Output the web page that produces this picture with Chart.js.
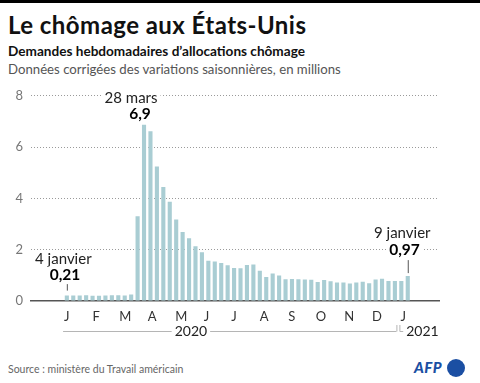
<!DOCTYPE html>
<html>
<head>
<meta charset="utf-8">
<script src="https://cdn.jsdelivr.net/npm/chart.js@4.4.0/dist/chart.umd.min.js"></script>
<style>
  body { margin: 0; width: 480px; height: 383px; background: #fff; font-family: Lato, sans-serif; position: relative; overflow: hidden; }
  #topbar { position: absolute; left: 0; top: 0; width: 480px; height: 3px; background: #000; }
  .txt { position: absolute; left: 8px; white-space: nowrap; }
  #title { top: 12px; font-size: 24px; font-weight: 700; color: #111; line-height: 26px; letter-spacing: 0.45px; }
  #subtitle { top: 43px; font-size: 13.6px; font-weight: 700; color: #111; line-height: 17px; }
  #subtitle2 { top: 60.5px; font-size: 13.2px; color: #555; line-height: 17px; }
  #source { top: 362px; font-size: 10.5px; color: #666; line-height: 14px; }
  #afp { position: absolute; left: 414px; top: 359.5px; font-size: 15px; font-style: italic; font-weight: 900; color: #1b4fa3; line-height: 14px; letter-spacing: 0.5px; }
  #dot { position: absolute; left: 447px; top: 359px; width: 18px; height: 18px; border-radius: 50%; background: #1b4fa3; }
  #chartbox { position: absolute; left: 0; top: 80px; width: 480px; height: 270px; }
</style>
</head>
<body>
<div id="topbar"></div>
<div class="txt" id="title">Le chômage aux États-Unis</div>
<div class="txt" id="subtitle">Demandes hebdomadaires d’allocations chômage</div>
<div class="txt" id="subtitle2">Données corrigées des variations saisonnières, en millions</div>
<div id="chartbox"><canvas id="claims_chart" width="480" height="270"></canvas></div>
<div class="txt" id="source">Source : ministère du Travail américain</div>
<div id="afp">AFP</div>
<div id="dot"></div>

<script>
// weekly initial claims, millions, first week ending 4 Jan 2020
const firstWeek = "2020-01-04"
const claims = [
  0.21, 0.21, 0.21, 0.22, 0.20, 0.20, 0.21, 0.22, 0.22, 0.21,
  0.25, 3.30, 6.87, 6.62, 5.24, 4.44, 3.87, 3.18, 2.69, 2.45,
  2.13, 1.90, 1.57, 1.54, 1.48, 1.39, 1.29, 1.28, 1.40, 1.42,
  1.18, 0.94, 1.07, 0.99, 0.85, 0.86, 0.85, 0.84, 0.83, 0.74,
  0.82, 0.77, 0.72, 0.72, 0.68, 0.72, 0.75, 0.69, 0.84, 0.87,
  0.78, 0.78, 0.78, 0.97
]
const monthLetters = ["J", "F", "M", "A", "M", "J", "J", "A", "S", "O", "N", "D", "J"]
const monthStarts = ["2020-01-01", "2020-02-01", "2020-03-01", "2020-04-01", "2020-05-01", "2020-06-01",
  "2020-07-01", "2020-08-01", "2020-09-01", "2020-10-01", "2020-11-01", "2020-12-01", "2021-01-01"]
const yTicks = [0, 2, 4, 6, 8]
const years = ["2020", "2021"]

// highlighted weeks: index in claims, date text, value text
const notes = [
  { i: 0, date: "4 janvier", value: "0,21" },
  { i: 12, date: "28 mars", value: "6,9" },
  { i: 53, date: "9 janvier", value: "0,97" }
]

function day_of(dateString) {
  return (Date.parse(dateString) - Date.parse(firstWeek)) / 86400000
}

const monthDays = monthStarts.map(day_of)
const points = claims.map((v, i) => ({ x: i * 7, y: v }))

// where each note sits relative to its bar (pixels)
const noteLayout = [
  { dateDx: -3.5, dateDy: -36, valDx: -1.8, valDy: -21, tick: [-11.5, -5] },
  { dateDx: -13, dateDy: -27, valDx: -4, valDy: -11, tick: null },
  { dateDx: -5.5, dateDy: -43, valDx: -3.3, valDy: -26, tick: [-16, -3] }
]

function text_with_bg(ctx, txt, x, y) {
  let w = ctx.measureText(txt).width
  ctx.fillStyle = "#fff"
  ctx.fillRect(x - w / 2 - 3, y - 8, w + 6, 16)
  ctx.fillStyle = ctx._txtColor
  ctx.fillText(txt, x, y)
}

const notesPlugin = {
  id: "notes",
  afterDatasetsDraw(chart) {
    const ctx = chart.ctx
    const xs = chart.scales.x, ys = chart.scales.y
    ctx.save()
    ctx.textAlign = "center"
    ctx.textBaseline = "middle"
    notes.forEach((n, k) => {
      let lay = noteLayout[k]
      let x = xs.getPixelForValue(points[n.i].x)
      let top = ys.getPixelForValue(claims[n.i])
      ctx.font = "15px Lato"
      ctx._txtColor = "#222"
      text_with_bg(ctx, n.date, x + lay.dateDx, top + lay.dateDy)
      ctx.font = "bold 15.5px Lato"
      ctx._txtColor = "#000"
      text_with_bg(ctx, n.value, x + lay.valDx, top + lay.valDy)
      if (lay.tick) {
        ctx.strokeStyle = "#555"
        ctx.lineWidth = 1
        ctx.beginPath()
        ctx.moveTo(x + 0.5, top + lay.tick[0])
        ctx.lineTo(x + 0.5, top + lay.tick[1])
        ctx.stroke()
      }
    })
    ctx.restore()
  },
  afterDraw(chart) {
    // year brackets under the month letters
    const ctx = chart.ctx
    const xs = chart.scales.x
    let y = 251
    let a0 = xs.getPixelForValue(monthDays[0]) - 1
    let a1 = xs.getPixelForValue(monthDays[12]) - 4
    let b0 = xs.getPixelForValue(monthDays[12]) - 0.5
    let b1 = xs.right + 1
    ctx.save()
    ctx.strokeStyle = "#b5b5b5"
    ctx.lineWidth = 1
    ctx.beginPath()
    ctx.moveTo(a0, y + 0.5); ctx.lineTo(a1, y + 0.5)
    ctx.moveTo(a1 + 0.5, y + 0.5); ctx.lineTo(a1 + 0.5, y - 6)
    ctx.moveTo(b0, y - 6); ctx.lineTo(b0, y + 0.5); ctx.lineTo(b1, y + 0.5)
    ctx.stroke()
    ctx.font = "14px Lato"
    ctx.textAlign = "center"
    ctx.textBaseline = "middle"
    ctx._txtColor = "#222"
    text_with_bg(ctx, years[0], xs.getPixelForValue(135), y)
    text_with_bg(ctx, years[1], xs.getPixelForValue(387), y)
    ctx.restore()
  }
}

let ctx1 = document.getElementById("claims_chart").getContext("2d")

new Chart(ctx1, {
  type: "bar",
  data: {
    datasets: [{
      data: points,
      backgroundColor: "#a9cdd3",
      barPercentage: 0.8,
      categoryPercentage: 0.8
    }]
  },
  options: {
    responsive: false,
    animation: false,
    layout: { padding: { left: 0, right: 41, top: 15, bottom: 0 } },
    plugins: { legend: { display: false }, tooltip: { enabled: false } },
    scales: {
      x: {
        type: "linear",
        min: -39,
        max: 405,
        offset: false,
        afterBuildTicks: s => { s.ticks = monthDays.map(v => ({ value: v })) },
        afterFit: s => { s.height = 49 },
        ticks: {
          align: "start",
          padding: 8,
          color: "#333",
          autoSkip: false,
          maxRotation: 0,
          font: { family: "Lato", size: 13 },
          callback: (v, i) => monthLetters[i]
        },
        grid: { display: false, drawTicks: false },
        border: { display: true, color: "#555", width: 1.5 }
      },
      y: {
        min: 0,
        max: 8,
        afterBuildTicks: s => { s.ticks = yTicks.map(v => ({ value: v })) },
        afterFit: s => { s.width = 31 },
        ticks: { padding: 8, color: "#777", font: { family: "Lato", size: 13 } },
        grid: {
          drawTicks: false,
          lineWidth: 1,
          color: c => (c.tick && c.tick.value === 0) ? "rgba(0,0,0,0)" : "#9a9a9a"
        },
        border: { display: false, dash: [1, 2] }
      }
    }
  },
  plugins: [notesPlugin]
})
</script>
</body>
</html>
